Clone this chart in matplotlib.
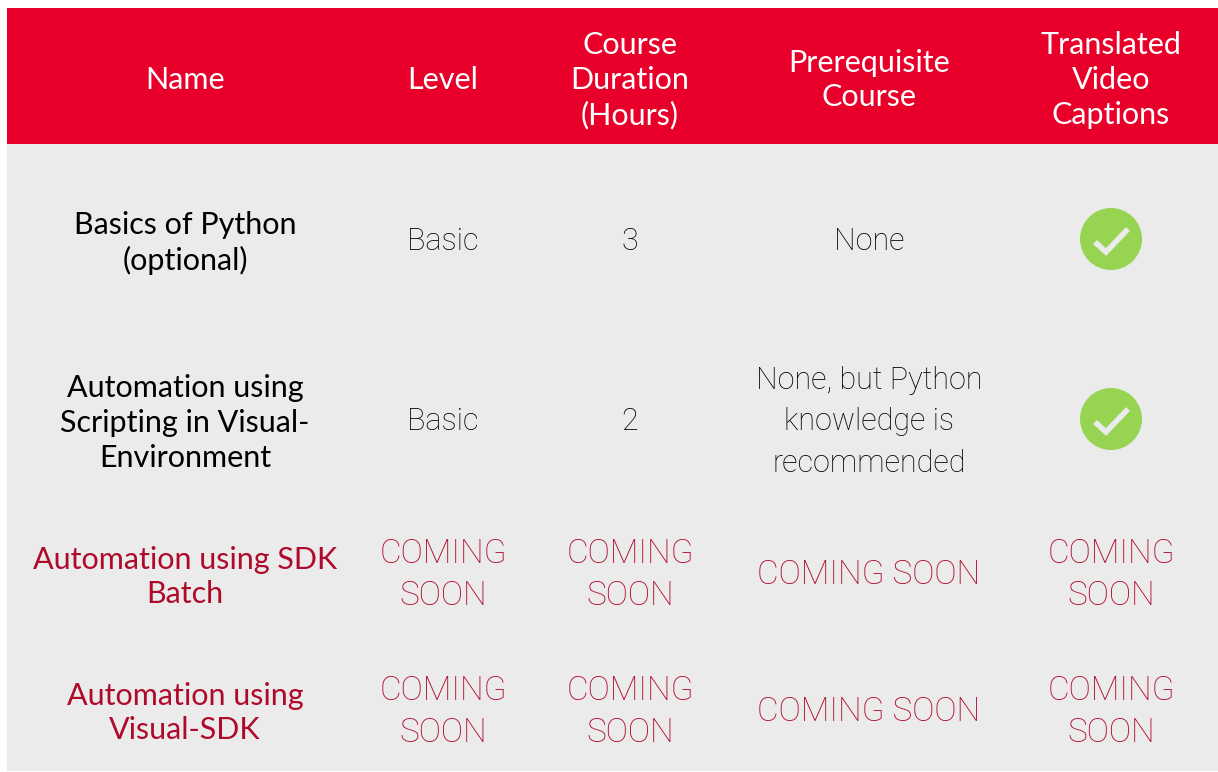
import matplotlib
matplotlib.use('Agg')
import matplotlib.pyplot as plt
from matplotlib.patches import Rectangle, Circle

W, H = 1218, 772
plt.rcParams['font.family'] = ['Lato', 'Open Sans', 'DejaVu Sans']

RED = '#e8002a'
DARK_RED = '#b00a2a'
GREY = '#ebebeb'
GREEN = '#96d452'

headers = ['Name', 'Level', 'Course\nDuration\n(Hours)', 'Prerequisite\nCourse', 'Translated\nVideo\nCaptions']
names = ['Basics of Python\n(optional)', 'Automation using\nScripting in Visual-\nEnvironment',
         'Automation using SDK\nBatch', 'Automation using\nVisual-SDK']
levels = ['Basic', 'Basic', 'COMING\nSOON', 'COMING\nSOON']
durations = ['3', '2', 'COMING\nSOON', 'COMING\nSOON']
prereqs = ['None', 'None, but Python\nknowledge is\nrecommended', 'COMING SOON', 'COMING SOON']
captions = [True, True, 'COMING\nSOON', 'COMING\nSOON']

col_x = [185, 443, 630, 869, 1111]
row_y = [239, 419, 572, 709]
name_y = [243, 423, 577, 713]

fig = plt.figure(figsize=(W / 100, H / 100), dpi=100)
ax = fig.add_axes([0, 0, 1, 1])
ax.set_xlim(0, W)
ax.set_ylim(H, 0)
ax.axis('off')

ax.add_patch(Rectangle((7, 8), 1211, 136, color=RED, lw=0))
ax.add_patch(Rectangle((7, 144), 1211, 627, color=GREY, lw=0))

for x, h in zip(col_x, headers):
    ax.text(x, 80, h, color='white', fontsize=22, ha='center', va='center', linespacing=1.3)


def body(x, y, s, col):
    # capitals run wider in the reference than Roboto Light at the body size
    size = 24 if s.startswith('COMING') else 22
    spacing = 1.38 if s.startswith('COMING') else 1.55
    ax.text(x, y + 3, s, color=col, fontsize=size, ha='center', va='center', linespacing=spacing,
            family=['Roboto', 'DejaVu Sans'], fontweight='light')


for i in range(4):
    col = 'black' if i < 2 else DARK_RED
    ax.text(col_x[0], name_y[i], names[i], color=col, fontsize=22, ha='center', va='center',
            linespacing=1.3)
    body(col_x[1], row_y[i], levels[i], col)
    body(col_x[2], row_y[i], durations[i], col)
    body(col_x[3], row_y[i], prereqs[i], col)
    if captions[i] is True:
        cx, cy = col_x[4], row_y[i]
        ax.add_patch(Circle((cx, cy), 31, color=GREEN, lw=0))
        ax.plot([cx - 16, cx - 5, cx + 17], [cy + 3, cy + 13, cy - 10],
                color=GREY, lw=4, solid_capstyle='butt', solid_joinstyle='miter')
    else:
        body(col_x[4], row_y[i], captions[i], col)

fig.savefig('out.png', dpi=100, facecolor='white')
